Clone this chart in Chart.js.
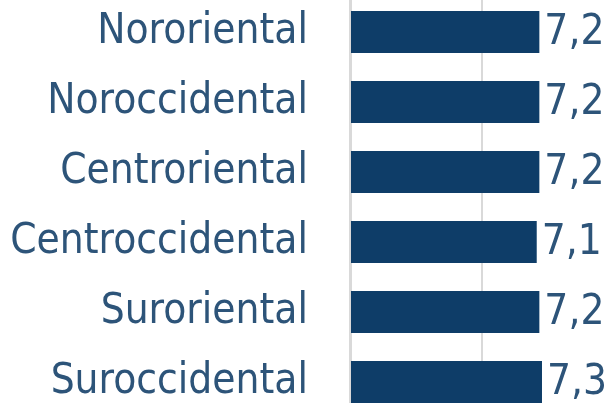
<!DOCTYPE html>
<html>
<head>
<meta charset="utf-8">
<script src="https://cdn.jsdelivr.net/npm/chart.js@4.4.1/dist/chart.umd.min.js"></script>
<style>
    html, body { margin: 0; padding: 0; background: #fff; }
    #wrap { width: 611px; height: 403px; overflow: hidden; position: relative; }
    #regionChart { position: absolute; left: 0; top: -3px; }
</style>
</head>
<body>
<div id="wrap">
    <canvas id="regionChart" width="613" height="420"></canvas>
</div>
<script>
// Regions and their values
const regions = ["Nororiental", "Noroccidental", "Centroriental", "Centroccidental", "Suroriental", "Suroccidental"];
const values = [7.2, 7.2, 7.2, 7.1, 7.2, 7.3];
const valueLabels = ["7,2", "7,2", "7,2", "7,1", "7,2", "7,3"];

const textColor = "#2d5479";
const barColor = "#0e3d68";
const fontFamily = "'DejaVu Sans Condensed', 'DejaVu Sans', sans-serif";

// Draws the value next to the end of each bar
const valueLabelPlugin = {
    id: "valueLabels",
    afterDatasetsDraw(chart) {
        const ctx = chart.ctx;
        const meta = chart.getDatasetMeta(0);
        ctx.save();
        ctx.font = "42px " + fontFamily;
        ctx.fillStyle = textColor;
        ctx.textAlign = "left";
        ctx.textBaseline = "middle";
        meta.data.forEach((bar, i) => {
            ctx.fillText(valueLabels[i], bar.x + 5, bar.y + 1);
        });
        ctx.restore();
    }
};

const ctx = document.getElementById("regionChart").getContext("2d");

new Chart(ctx, {
    type: "bar",
    data: {
        labels: regions,
        datasets: [{
            data: values,
            backgroundColor: barColor,
            borderWidth: 0,
            barPercentage: 0.6,
            categoryPercentage: 1.0,
        }],
    },
    options: {
        indexAxis: "y",
        responsive: false,
        animation: false,
        layout: { padding: 0 },
        plugins: {
            legend: { display: false },
            tooltip: { enabled: false },
        },
        scales: {
            x: {
                min: 0,
                max: 10,
                ticks: { display: false, stepSize: 5 },
                grid: { color: "#d9d9d9", lineWidth: 2, drawTicks: false },
                border: { display: false },
            },
            y: {
                ticks: {
                    color: textColor,
                    font: { family: fontFamily, size: 42 },
                    padding: 42,
                },
                grid: { display: false, drawTicks: false },
                border: { color: "#d9d9d9", width: 3 },
                afterFit(scale) {
                    scale.width = 350; // fixed axis width so the plot starts where the bars start
                    // the tick padding would otherwise also pad top and bottom
                    scale.paddingTop = 0;
                    scale.paddingBottom = 0;
                },
            },
        },
    },
    plugins: [valueLabelPlugin],
});
</script>
</body>
</html>
